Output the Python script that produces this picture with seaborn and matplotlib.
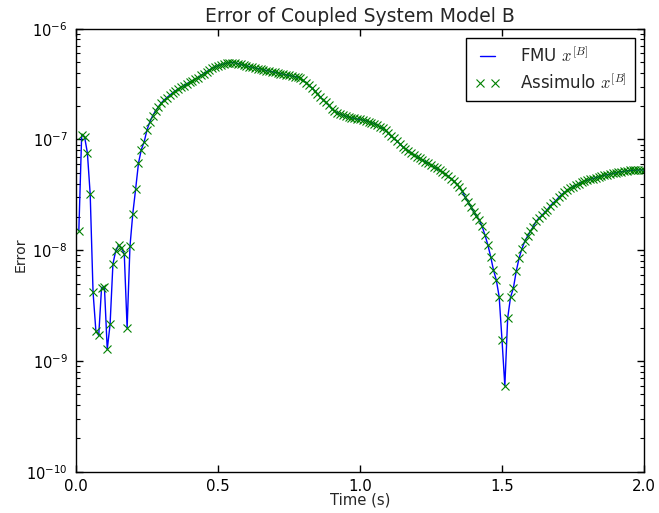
import numpy as np
import pandas as pd
import matplotlib
matplotlib.use("Agg")
import matplotlib.pyplot as plt
import seaborn as sns
from matplotlib.ticker import LogLocator, NullFormatter, FormatStrFormatter

# ---- data ----
time_s = np.linspace(0.01, 2.0, 200)

error_fmu = [
    1.5e-8, 1.1e-7, 1.06e-7, 7.6e-8, 3.2e-8, 4.2e-9, 1.87e-9, 1.7e-9, 4.6e-9, 4.7e-9,
    1.27e-9, 2.14e-9, 7.5e-9, 9.9e-9, 1.11e-8, 1.05e-8, 9.2e-9, 1.98e-9, 1.08e-8, 2.14e-8,
    3.57e-8, 6.1e-8, 8.1e-8, 9.5e-8, 1.22e-7, 1.44e-7, 1.64e-7, 1.81e-7, 1.96e-7, 2.13e-7,
    2.27e-7, 2.39e-7, 2.51e-7, 2.63e-7, 2.75e-7, 2.85e-7, 2.96e-7, 3.06e-7, 3.17e-7, 3.29e-7,
    3.39e-7, 3.50e-7, 3.62e-7, 3.78e-7, 3.93e-7, 4.08e-7, 4.26e-7, 4.39e-7, 4.51e-7, 4.63e-7,
    4.72e-7, 4.80e-7, 4.88e-7, 4.93e-7, 4.95e-7, 4.92e-7, 4.85e-7, 4.77e-7, 4.68e-7, 4.61e-7,
    4.55e-7, 4.48e-7, 4.43e-7, 4.37e-7, 4.31e-7, 4.26e-7, 4.19e-7, 4.14e-7, 4.09e-7, 4.04e-7,
    3.99e-7, 3.93e-7, 3.88e-7, 3.83e-7, 3.78e-7, 3.74e-7, 3.70e-7, 3.65e-7, 3.59e-7, 3.41e-7,
    3.25e-7, 3.08e-7, 2.93e-7, 2.76e-7, 2.59e-7, 2.43e-7, 2.28e-7, 2.16e-7, 2.03e-7, 1.90e-7,
    1.82e-7, 1.74e-7, 1.70e-7, 1.66e-7, 1.62e-7, 1.59e-7, 1.57e-7, 1.55e-7, 1.53e-7, 1.52e-7,
    1.50e-7, 1.48e-7, 1.45e-7, 1.42e-7, 1.39e-7, 1.35e-7, 1.30e-7, 1.26e-7, 1.21e-7, 1.14e-7,
    1.07e-7, 1.02e-7, 9.64e-8, 9.10e-8, 8.63e-8, 8.24e-8, 7.91e-8, 7.57e-8, 7.26e-8, 7.00e-8,
    6.76e-8, 6.52e-8, 6.30e-8, 6.08e-8, 5.87e-8, 5.66e-8, 5.47e-8, 5.27e-8, 5.07e-8, 4.86e-8,
    4.67e-8, 4.44e-8, 4.22e-8, 3.96e-8, 3.72e-8, 3.42e-8, 3.02e-8, 2.75e-8, 2.48e-8, 2.23e-8,
    2.04e-8, 1.87e-8, 1.64e-8, 1.37e-8, 1.12e-8, 8.77e-9, 6.62e-9, 5.38e-9, 3.80e-9, 1.55e-9,
    5.94e-10, 2.44e-9, 3.76e-9, 4.53e-9, 6.43e-9, 8.45e-9, 1.03e-8, 1.20e-8, 1.34e-8, 1.48e-8,
    1.63e-8, 1.82e-8, 1.95e-8, 2.06e-8, 2.19e-8, 2.33e-8, 2.52e-8, 2.67e-8, 2.81e-8, 3.01e-8,
    3.18e-8, 3.33e-8, 3.47e-8, 3.61e-8, 3.74e-8, 3.86e-8, 3.98e-8, 4.09e-8, 4.19e-8, 4.28e-8,
    4.35e-8, 4.44e-8, 4.51e-8, 4.58e-8, 4.66e-8, 4.73e-8, 4.81e-8, 4.86e-8, 4.93e-8, 4.99e-8,
    5.05e-8, 5.11e-8, 5.15e-8, 5.21e-8, 5.25e-8, 5.27e-8, 5.30e-8, 5.32e-8, 5.32e-8, 5.30e-8,
]
error_assimulo = list(error_fmu)

x_ticks = [0.0, 0.5, 1.0, 1.5, 2.0]
title = "Error of Coupled System Model B"
label_fmu = r"FMU $x^{[B]}$"
label_assimulo = r"Assimulo $x^{[B]}$"

# ---- style ----
sns.set_style("white")
plt.rcParams["font.family"] = ["DejaVu Sans"]
plt.rcParams["mathtext.fontset"] = "cm"

df = pd.DataFrame({"t": time_s, "fmu": error_fmu, "assimulo": error_assimulo})

fig = plt.figure(figsize=(6.59, 5.13), dpi=100)
ax = fig.add_axes([76 / 659, 1 - 471.7 / 513, (644 - 76) / 659, (471.7 - 28.7) / 513])

green = "#008000"
sns.lineplot(data=df, x="t", y="fmu", ax=ax, color="blue", lw=1.0, label=label_fmu)
sns.lineplot(data=df, x="t", y="assimulo", ax=ax, color=green, linestyle="none",
             marker="x", markersize=5.2, markeredgewidth=0.8, markeredgecolor=green,
             markerfacecolor=green, label=label_assimulo)

ax.set_yscale("log")
ax.set_xlim(0, 2.0)
ax.set_ylim(1e-10, 1e-6)
ax.set_xticks(x_ticks)
ax.xaxis.set_major_formatter(FormatStrFormatter("%.1f"))
ax.yaxis.set_major_locator(LogLocator(base=10, numticks=10))
ax.yaxis.set_minor_locator(LogLocator(base=10, subs=np.arange(2, 10), numticks=20))
ax.yaxis.set_minor_formatter(NullFormatter())
ax.xaxis.get_offset_text().set_visible(False)
ax.yaxis.get_offset_text().set_visible(False)

ax.tick_params(which="both", direction="in", top=True, right=True, bottom=True, left=True,
               colors="black")
ax.tick_params(axis="x", labelsize=10.8, pad=5)
ax.tick_params(axis="y", labelsize=10.5, pad=6)
ax.tick_params(which="major", length=5, width=1)
ax.tick_params(which="minor", length=2.8, width=0.8)

for s in ax.spines.values():
    s.set_visible(True)
    s.set_color("black")
    s.set_linewidth(1.0)

ax.set_xlabel("Time (s)", fontsize=10.7)
ax.xaxis.set_label_coords(0.5, -0.047)
ax.set_ylabel("Error", fontsize=10.2)
ax.yaxis.set_label_coords(-0.085, 0.49)
ax.set_title(title, fontsize=13.5, pad=5)

leg = ax.legend(loc="upper right", numpoints=2, fancybox=False, framealpha=1,
                edgecolor="black", fontsize=12, handlelength=1.5, handletextpad=1.2,
                borderaxespad=0.55, borderpad=0.5, labelspacing=0.45)
leg.get_frame().set_linewidth(1.0)

fig.savefig("out.png", dpi=100, facecolor="white")
